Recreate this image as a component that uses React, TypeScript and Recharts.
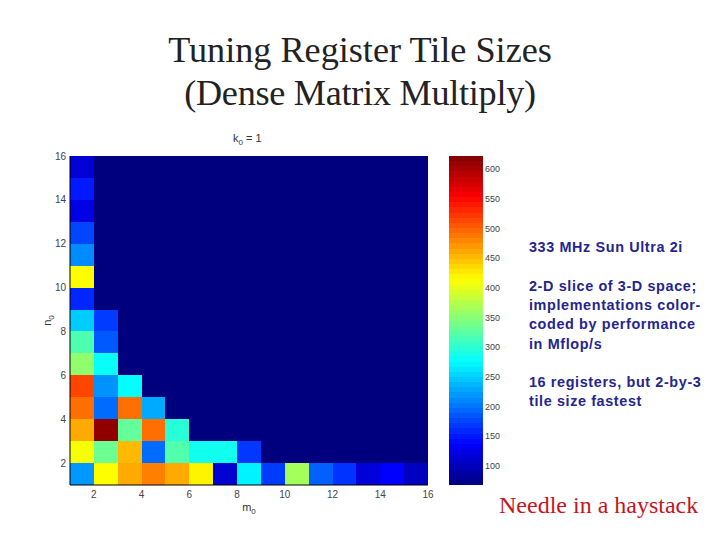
import React from "react";
import { ComposedChart, XAxis, YAxis, ReferenceArea, Label } from "recharts";

const mTicks = [2, 4, 6, 8, 10, 12, 14, 16];
const nTicks = [2, 4, 6, 8, 10, 12, 14, 16];
const barTicks = [100, 150, 200, 250, 300, 350, 400, 450, 500, 550, 600];
const BAR_MIN = 68;
const BAR_MAX = 622;
const BACKGROUND = 68;
const BAR_LEVELS = 64;

// Non-background cells per row, starting at m = 1. Everything else is BACKGROUND.
const row1 = [220, 415, 460, 483, 460, 420, 112, 270, 170, 365, 190, 165, 116, 137, 103];
const row2 = [410, 335, 452, 196, 320, 285, 285, 168];
const row3 = [460, 612, 330, 492, 297];
const row4 = [492, 196, 492, 230];
const row5 = [515, 217, 276];
const row6 = [355, 280];
const row7 = [318, 186];
const row8 = [248, 170];
const row9 = [158];
const row10 = [415];
const row11 = [213];
const row12 = [175];
const row13 = [123];
const row14 = [151];
const row15 = [115];
const rows = [row1, row2, row3, row4, row5, row6, row7, row8, row9, row10, row11, row12, row13, row14, row15];

const jetStops = ["#00007f", "#0000ff", "#007fff", "#00ffff", "#7fff7f", "#ffff00", "#ff7f00", "#ff0000", "#7f0000"];

function jet(v: number): string {
  const t = Math.min(1, Math.max(0, (v - BAR_MIN) / (BAR_MAX - BAR_MIN))) * 8;
  const i = Math.min(7, Math.floor(t));
  const f = t - i;
  const a = jetStops[i];
  const b = jetStops[i + 1];
  const ch = (s: string, o: number) => parseInt(s.slice(o, o + 2), 16);
  const mix = (o: number) => Math.round(ch(a, o) + (ch(b, o) - ch(a, o)) * f);
  return `rgb(${mix(1)},${mix(3)},${mix(5)})`;
}

const barBands = Array.from({ length: BAR_LEVELS }, (_, i) => {
  const step = (BAR_MAX - BAR_MIN) / BAR_LEVELS;
  return { from: BAR_MIN + i * step, to: BAR_MIN + (i + 1) * step, mid: BAR_MIN + (i + 0.5) * step };
});

const tick = { fontSize: 10, fill: "#444", fontFamily: "Liberation Sans" };
const axisLine = { stroke: "#000", strokeWidth: 1 };
const navy = "#25258f";

function SubLabel({ viewBox, main, sub, rotate, dx, dy }: any) {
  const cx = viewBox.x + viewBox.width / 2 + dx;
  const cy = viewBox.y + viewBox.height / 2 + dy;
  return (
    <text
      x={cx}
      y={cy}
      textAnchor="middle"
      fontSize={11}
      fontFamily="Liberation Sans"
      fill="#333"
      transform={rotate ? `rotate(-90 ${cx} ${cy})` : undefined}
    >
      {main}
      <tspan fontSize={8} dy={3}>{sub}</tspan>
    </text>
  );
}

const textBlock: React.CSSProperties = {
  position: "absolute",
  left: 529,
  width: 190,
  fontFamily: "Liberation Sans",
  fontSize: 14.4,
  fontWeight: "bold",
  lineHeight: "19.2px",
  letterSpacing: 0.62,
  color: navy,
  whiteSpace: "nowrap",
};

export default function App() {
  return (
    <div style={{ position: "absolute", left: 0, top: 0, width: 720, height: 540, background: "#fff", overflow: "hidden" }}>
      <div
        style={{
          position: "absolute",
          left: 0,
          top: 29,
          width: 720,
          textAlign: "center",
          fontFamily: "Liberation Serif",
          fontSize: 36.2,
          lineHeight: "43px",
          color: "#222",
        }}
      >
        Tuning Register Tile Sizes
        <br />
        <span style={{ letterSpacing: -0.27 }}>(Dense Matrix Multiply)</span>
      </div>

      <div style={{ position: "absolute", left: 0, top: 0 }}>
        <ComposedChart width={720} height={540} margin={{ top: 156, right: 292, bottom: 25, left: 40 }} data={[]}>
          <XAxis
            type="number"
            dataKey="m"
            domain={[1, 16]}
            ticks={mTicks}
            interval={0}
            allowDataOverflow
            height={30}
            tick={tick}
            tickSize={0}
            tickMargin={6}
            axisLine={axisLine}
            tickLine={false}
          >
            <Label content={(p: any) => <SubLabel {...p} main="m" sub="0" dx={0} dy={11} />} />
          </XAxis>
          <YAxis
            type="number"
            dataKey="n"
            domain={[1, 16]}
            ticks={nTicks}
            interval={0}
            allowDataOverflow
            width={30}
            tick={tick}
            tickSize={0}
            tickMargin={4}
            axisLine={axisLine}
            tickLine={false}
          >
            <Label content={(p: any) => <SubLabel {...p} main="n" sub="0" rotate dx={-4} dy={0} />} />
          </YAxis>
          <ReferenceArea x1={1} x2={16} y1={1} y2={16} fill={jet(BACKGROUND)} fillOpacity={1} stroke="none" />
          {rows.map((row, r) =>
            row.map((v, i) => (
              <ReferenceArea
                key={`${r}-${i}`}
                x1={i + 1}
                x2={i + 2}
                y1={r + 1}
                y2={r + 2}
                fill={jet(v)}
                fillOpacity={1}
                stroke="none"
                shapeRendering="crispEdges"
              />
            ))
          )}
        </ComposedChart>
      </div>

      <div style={{ position: "absolute", left: 449, top: 0 }}>
        <ComposedChart width={80} height={540} margin={{ top: 156, right: 0, bottom: 55, left: 0 }} data={[]}>
          <XAxis type="number" dataKey="x" domain={[0, 1]} hide allowDataOverflow />
          <YAxis
            type="number"
            dataKey="y"
            orientation="right"
            domain={[BAR_MIN, BAR_MAX]}
            ticks={barTicks}
            interval={0}
            allowDataOverflow
            width={46}
            tick={{ ...tick, fontSize: 9 }}
            tickSize={0}
            tickMargin={2}
            axisLine={false}
            tickLine={false}
          />
          {barBands.map((b) => (
            <ReferenceArea
              key={b.from}
              x1={0}
              x2={1}
              y1={b.from}
              y2={b.to}
              fill={jet(b.mid)}
              fillOpacity={1}
              stroke="none"
              shapeRendering="crispEdges"
            />
          ))}
        </ComposedChart>
      </div>

      <div style={{ position: "absolute", left: 233, top: 132, fontFamily: "Liberation Sans", fontSize: 11, color: "#333" }}>
        k<sub style={{ fontSize: 8 }}>0</sub> = 1
      </div>

      <div style={{ ...textBlock, top: 238 }}>333 MHz Sun Ultra 2i</div>
      <div style={{ ...textBlock, top: 277 }}>
        2-D slice of 3-D space;
        <br />
        implementations color-
        <br />
        coded by performance
        <br />
        in Mflop/s
      </div>
      <div style={{ ...textBlock, top: 373 }}>
        16 registers, but 2-by-3
        <br />
        tile size fastest
      </div>
      <div
        style={{
          position: "absolute",
          left: 499,
          top: 491,
          fontFamily: "Liberation Serif",
          fontSize: 24,
          lineHeight: "28px",
          color: "#c81420",
          whiteSpace: "nowrap",
        }}
      >
        Needle in a haystack
      </div>
    </div>
  );
}
